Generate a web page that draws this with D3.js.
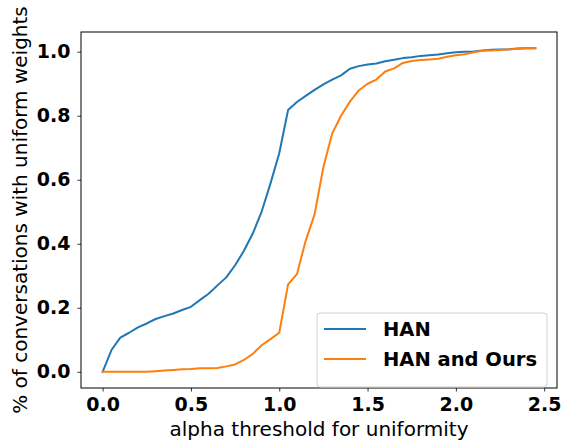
<!DOCTYPE html>
<html>
<head>
<meta charset="utf-8">
<script src="https://cdn.jsdelivr.net/npm/d3@7/dist/d3.min.js"></script>
<style>
html,body{margin:0;padding:0;background:#fff;}
svg{display:block;}
</style>
</head>
<body>
<script>
const alphas = [0.00,0.05,0.10,0.15,0.20,0.25,0.30,0.35,0.40,0.45,0.50,0.55,0.60,0.65,0.70,0.75,0.80,0.85,0.90,0.95,
  1.00,1.05,1.10,1.15,1.20,1.25,1.30,1.35,1.40,1.45,1.50,1.55,1.60,1.65,1.70,1.75,1.80,1.85,1.90,1.95,
  2.00,2.05,2.10,2.15,2.20,2.25,2.30,2.35,2.40,2.45];
const han = [0.000,0.068,0.107,0.122,0.139,0.151,0.165,0.174,0.182,0.193,0.203,0.224,0.244,0.270,0.295,0.333,0.378,0.432,0.500,0.588,
  0.683,0.818,0.843,0.862,0.881,0.898,0.913,0.926,0.947,0.955,0.960,0.963,0.970,0.975,0.980,0.983,0.987,0.989,0.991,0.995,
  0.998,1.000,1.001,1.004,1.006,1.007,1.008,1.010,1.011,1.011];
const hanOurs = [0.000,0.000,0.000,0.000,0.000,0.000,0.002,0.004,0.006,0.008,0.009,0.011,0.011,0.012,0.017,0.023,0.037,0.056,0.083,0.102,
  0.122,0.273,0.305,0.410,0.492,0.640,0.745,0.800,0.844,0.879,0.900,0.913,0.938,0.948,0.965,0.971,0.974,0.976,0.978,0.984,
  0.989,0.992,0.998,1.003,1.004,1.005,1.007,1.009,1.011,1.011];
const seriesNames = ["HAN","HAN and Ours"];
const colors = ["#1f77b4","#ff7f0e"];
const xTicks = [0.0,0.5,1.0,1.5,2.0,2.5];
const yTicks = [0.0,0.2,0.4,0.6,0.8,1.0];
const xLabel = "alpha threshold for uniformity";
const yLabel = "% of conversations with uniform weights";

const W = 563, H = 441;
const L = 81, R = 557, T = 32, B = 388;
const svg = d3.select("body").append("svg").attr("width", W).attr("height", H);

const x = d3.scaleLinear().domain([-0.1225, 2.5725]).range([L, R]);
const y = d3.scaleLinear().domain([-0.0506, 1.0616]).range([B, T]);

const fmt = d3.format(".1f");
const font = "DejaVu Sans";

const xAxis = svg.append("g").attr("transform", `translate(0,${B})`)
  .call(d3.axisBottom(x).tickValues(xTicks).tickFormat(fmt).tickSizeOuter(0).tickSize(3.5).tickPadding(6.5));
const yAxis = svg.append("g").attr("transform", `translate(${L},0)`)
  .call(d3.axisLeft(y).tickValues(yTicks).tickFormat(fmt).tickSizeOuter(0).tickSize(3.5).tickPadding(7));
[xAxis, yAxis].forEach(g => {
  g.select(".domain").remove();
  g.selectAll("line").attr("stroke", "#000").attr("stroke-width", 0.8);
  g.selectAll("text").attr("font-family", font).attr("font-weight", "bold")
    .attr("font-size", 19).attr("fill", "#000");
});

const line = d3.line().x((d, i) => x(alphas[i])).y(d => y(d));
[han, hanOurs].forEach((s, k) => {
  svg.append("path").datum(s).attr("d", line).attr("fill", "none")
    .attr("stroke", colors[k]).attr("stroke-width", 2).attr("stroke-linejoin", "round").attr("stroke-linecap", "square");
});

svg.append("rect").attr("x", L).attr("y", T).attr("width", R - L).attr("height", B - T)
  .attr("fill", "none").attr("stroke", "#000").attr("stroke-width", 1);

svg.append("text").attr("x", (L + R) / 2).attr("y", 435.5).attr("text-anchor", "middle")
  .attr("font-family", font).attr("font-size", 20).attr("fill", "#000").text(xLabel);
svg.append("text").attr("transform", `translate(27,${(T + B) / 2}) rotate(-90)`).attr("text-anchor", "middle")
  .attr("font-family", font).attr("font-size", 20).attr("fill", "#000").text(yLabel);

const lg = svg.append("g");
lg.append("rect").attr("x", 317).attr("y", 313).attr("width", 230).attr("height", 74).attr("rx", 3)
  .attr("fill", "#fff").attr("fill-opacity", 0.8).attr("stroke", "#d0d0d0").attr("stroke-width", 1);
seriesNames.forEach((n, k) => {
  const yy = 329 + k * 30;
  lg.append("line").attr("x1", 324).attr("x2", 366).attr("y1", yy).attr("y2", yy)
    .attr("stroke", colors[k]).attr("stroke-width", 2);
  lg.append("text").attr("x", 383).attr("y", yy + 7).attr("font-family", font).attr("font-weight", "bold")
    .attr("font-size", 19.5).attr("fill", "#000").text(n);
});
</script>
</body>
</html>
